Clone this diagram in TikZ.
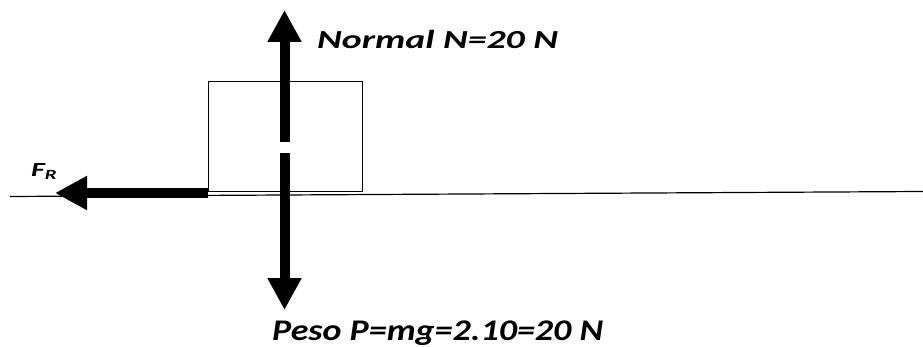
\documentclass[tikz,border=0pt]{standalone}
\usepackage{fontspec}
\setmainfont{Carlito}
\usetikzlibrary{arrows.meta}
\tikzset{
  force/.style={line width=10pt,-{Triangle[length=32pt,width=32pt]}},
  lbl/.style={font=\fontsize{26}{30}\selectfont\bfseries\itshape,inner sep=0pt},
  thin/.style={line width=1.2pt}
}
\newcommand{\wide}[2][1.45]{\scalebox{#1}[1]{#2}}
\begin{document}
\begin{tikzpicture}[x=1pt,y=-1pt]
  \useasboundingbox (0,0) rectangle (923,347);

  % suelo y bloque
  \coordinate (s1) at (10,196.5);
  \coordinate (s2) at (923,191.5);
  \draw[thin] (s1)--(s2);
  \node[draw,thin,minimum width=154pt,minimum height=110pt,inner sep=0pt,anchor=north west] (bloque) at (208,81) {};

  % fuerzas
  \coordinate (n0) at (284.5,142);
  \coordinate (n1) at (284.5,10);
  \coordinate (p0) at (284.5,153);
  \coordinate (p1) at (284.5,310);
  \coordinate (f0) at (208,193);
  \coordinate (f1) at (55,193);
  \draw[force] (n0)--(n1);
  \draw[force] (p0)--(p1);
  \draw[force] (f0)--(f1);

  \node[lbl,anchor=base west] (normal) at (317,49) {\wide{Normal N=20 N}};
  \node[lbl,font=\fontsize{30}{36}\selectfont\bfseries\itshape,anchor=base west] (peso) at (272,340) {\wide[1.2]{Peso P=mg=2.10=20 N}};
  \node[lbl,font=\fontsize{20}{24}\selectfont\bfseries\itshape,anchor=base west] (fr) at (31,176.5) {\wide[1.5]{F\textsubscript{R}}};
\end{tikzpicture}
\end{document}
